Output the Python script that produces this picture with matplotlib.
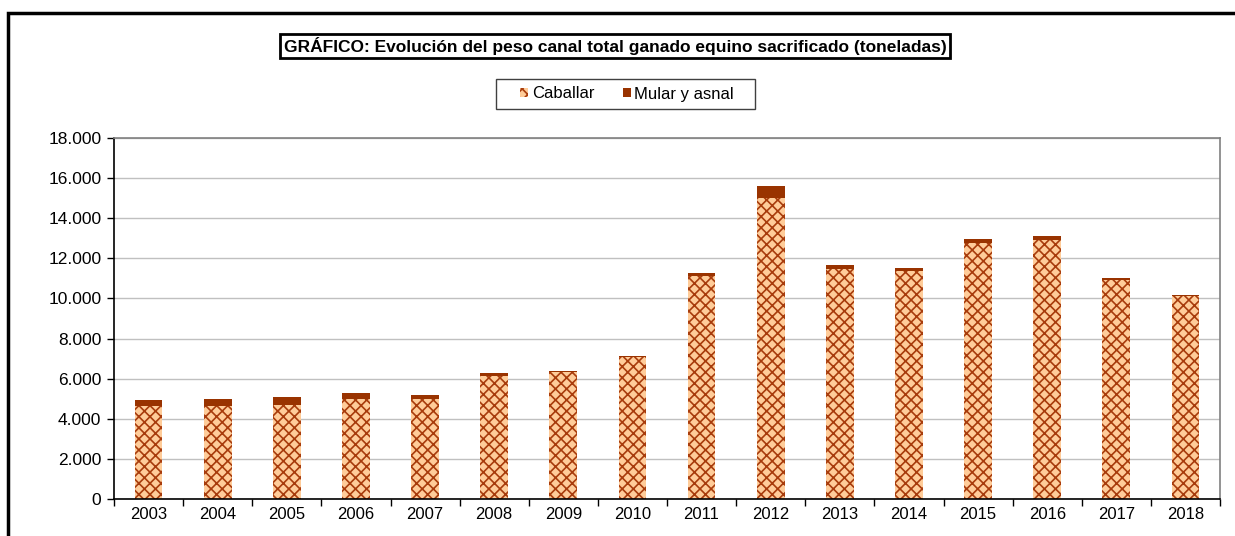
import matplotlib
matplotlib.use("Agg")
import matplotlib.pyplot as plt
import matplotlib.patches as mpatches
from matplotlib.ticker import FuncFormatter, MultipleLocator
import numpy as np

plt.rcParams['font.family'] = ['Liberation Sans', 'DejaVu Sans']
plt.rcParams['hatch.linewidth'] = 1.2

# data (toneladas)
years = ['2003', '2004', '2005', '2006', '2007', '2008', '2009', '2010',
         '2011', '2012', '2013', '2014', '2015', '2016', '2017', '2018']
caballar = [4640, 4650, 4700, 4990, 5000, 6120, 6330, 7080,
            11120, 15010, 11450, 11385, 12750, 12915, 10920, 10105]
mular = [300, 335, 370, 280, 170, 165, 50, 35,
         150, 610, 215, 135, 200, 200, 115, 80]

title = 'GRÁFICO: Evolución del peso canal total ganado equino sacrificado (toneladas)'

fig = plt.figure(figsize=(12.35, 5.36), dpi=100)
ax = fig.add_axes([114/1235, 37/536, (1220-114)/1235, (499-138)/536])

x = np.arange(len(years))
ax.bar(x, caballar, width=0.4, color='#FFCC99', edgecolor='#A83C0C',
       linewidth=0, hatch='xxx', zorder=2)
ax.bar(x, mular, width=0.4, bottom=caballar, color='#993300',
       linewidth=0, zorder=2)

ax.set_xlim(-0.5, len(years) - 0.5)
ax.set_ylim(0, 18000)
ax.yaxis.set_major_locator(MultipleLocator(2000))
ax.yaxis.set_major_formatter(FuncFormatter(lambda v, p: f'{int(v):,}'.replace(',', '.')))
ax.grid(axis='y', color='#C0C0C0', linewidth=1, zorder=0)
ax.set_axisbelow(True)

ax.set_xticks(x)
ax.set_xticklabels(years)
ax.set_xticks(np.arange(-0.5, len(years)), minor=True)
ax.tick_params(axis='x', which='major', length=0, labelsize=12, pad=6)
ax.tick_params(axis='x', which='minor', length=5, width=1, direction='out')
ax.tick_params(axis='y', length=5, width=1, labelsize=12.5, pad=4)

for s in ['left', 'bottom']:
    ax.spines[s].set_color('black')
    ax.spines[s].set_linewidth(1.2)
for s in ['top', 'right']:
    ax.spines[s].set_color('#808080')
    ax.spines[s].set_linewidth(1.2)

# outer frame
frame = mpatches.Rectangle((8/1235, -0.2), 1.2, 1.2 - 13/536,
                           transform=fig.transFigure, fill=False,
                           edgecolor='black', linewidth=2.5, clip_on=False)
fig.patches.append(frame)

fig.text(615/1235, 1 - 46/536, title, ha='center', va='center',
         fontsize=12.5, fontweight='bold',
         bbox=dict(boxstyle='square,pad=0.2', facecolor='white',
                   edgecolor='black', linewidth=2))

# legend box drawn separately so it can be wider than the entries
legbox = mpatches.Rectangle((496/1235, 1 - 109/536), (755-496)/1235, 30/536,
                            transform=fig.transFigure, facecolor='white',
                            edgecolor='#404040', linewidth=1)
fig.patches.append(legbox)

handles = [mpatches.Patch(facecolor='#FFCC99', edgecolor='#A83C0C', hatch='xxx', linewidth=0),
           mpatches.Patch(facecolor='#993300', linewidth=0)]
leg = fig.legend(handles, ['Caballar', 'Mular y asnal'], loc='center',
                 bbox_to_anchor=(627/1235, 1 - 94/536), ncol=2, frameon=False,
                 fontsize=12, handlelength=0.5, handleheight=0.5,
                 handletextpad=0.2, columnspacing=1.7, borderpad=0.2,
                 borderaxespad=0)

fig.savefig('out.png', dpi=100)
